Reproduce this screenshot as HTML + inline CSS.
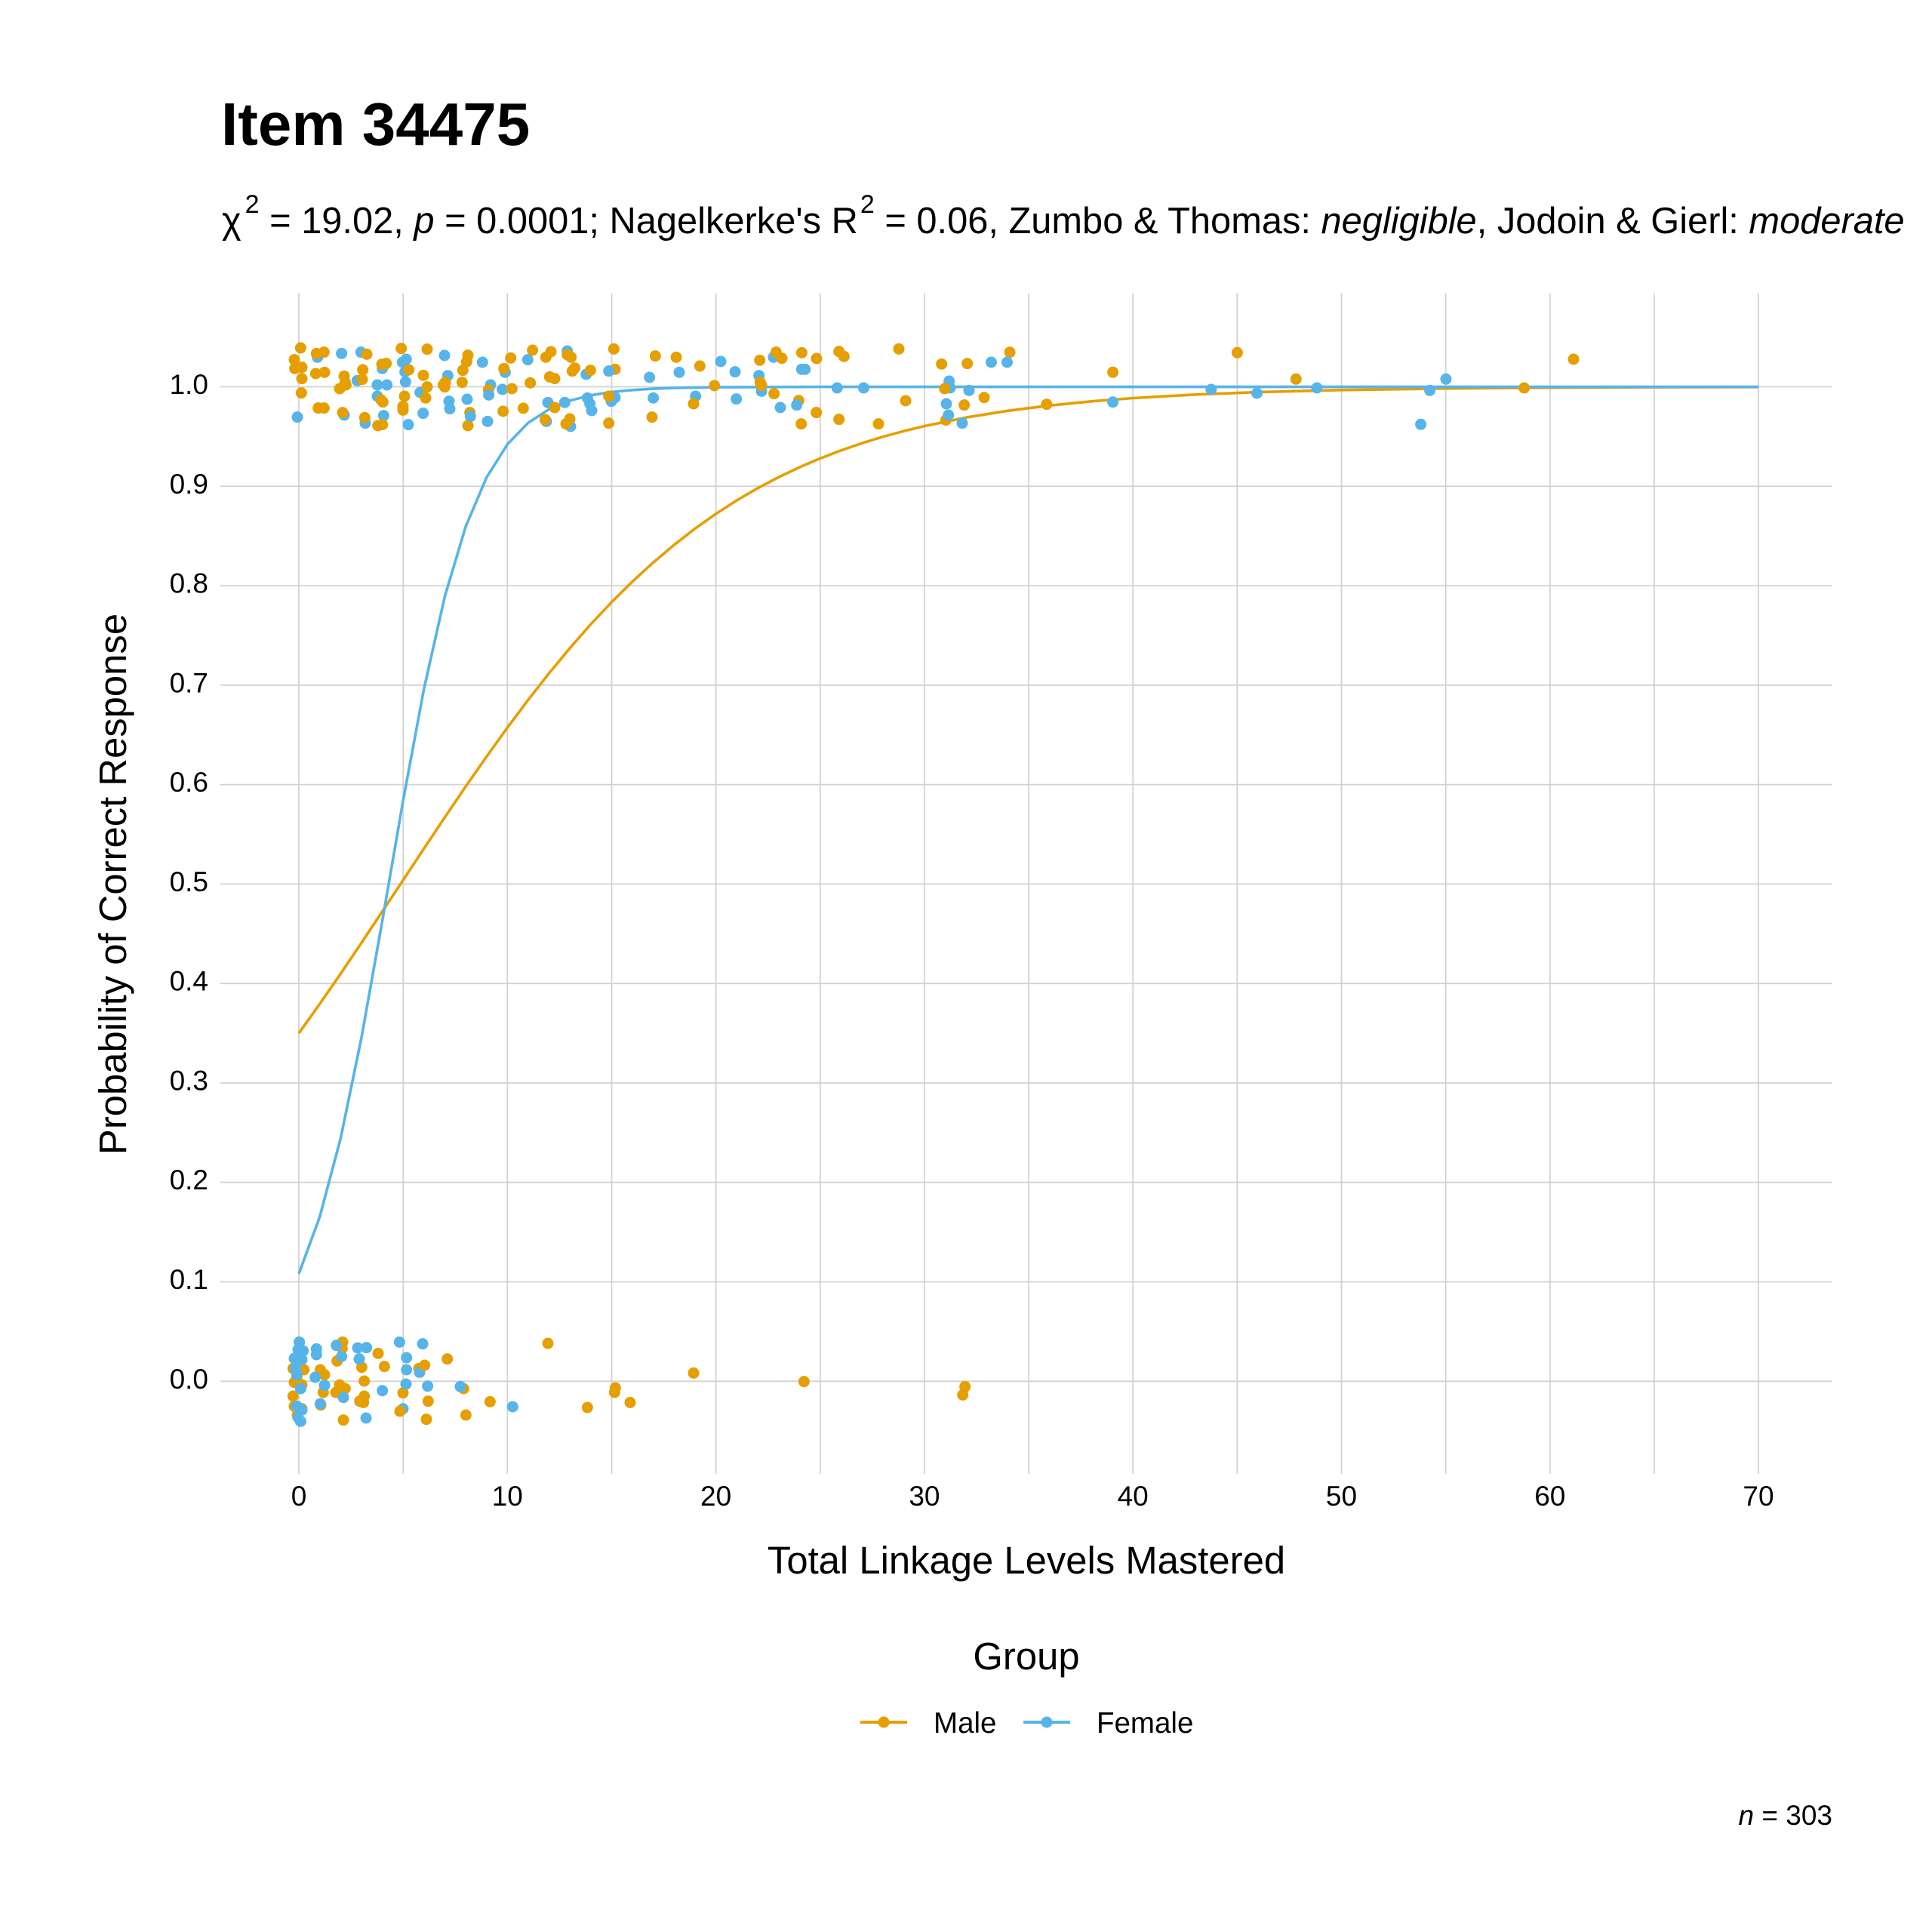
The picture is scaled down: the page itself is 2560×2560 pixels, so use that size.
<!DOCTYPE html>
<html>
<head>
<meta charset="utf-8">
<style>
html,body{margin:0;padding:0;background:#fff;}
svg{display:block;}
text{font-family:"Liberation Sans",Arial,sans-serif;fill:#000;}
</style>
</head>
<body>
<svg xmlns="http://www.w3.org/2000/svg" width="2560" height="2560" viewBox="0 0 2560 2560">
<rect width="2560" height="2560" fill="#fff"/>

<!-- Title -->
<text x="293" y="192" font-size="80" font-weight="bold">Item 34475</text>
<text x="294" y="309" font-size="48.8">χ<tspan dx="5" dy="-27" font-size="34">2</tspan><tspan dy="27"> = 19.02, </tspan><tspan font-style="italic">p</tspan> = 0.0001; Nagelkerke's R<tspan dx="3" dy="-27" font-size="34">2</tspan><tspan dy="27"> = 0.06, Zumbo &amp; Thomas: </tspan><tspan font-style="italic">negligible</tspan>, Jodoin &amp; Gierl: <tspan font-style="italic">moderate</tspan></text>

<!-- Grid -->
<g stroke="#d2d2d2" stroke-width="1.8" fill="none">
<line x1="292" x2="2428" y1="1830.3" y2="1830.3"/>
<line x1="292" x2="2428" y1="1698.5" y2="1698.5"/>
<line x1="292" x2="2428" y1="1566.7" y2="1566.7"/>
<line x1="292" x2="2428" y1="1435" y2="1435"/>
<line x1="292" x2="2428" y1="1303.2" y2="1303.2"/>
<line x1="292" x2="2428" y1="1171.4" y2="1171.4"/>
<line x1="292" x2="2428" y1="1039.6" y2="1039.6"/>
<line x1="292" x2="2428" y1="907.8" y2="907.8"/>
<line x1="292" x2="2428" y1="776.1" y2="776.1"/>
<line x1="292" x2="2428" y1="644.3" y2="644.3"/>
<line x1="292" x2="2428" y1="512.5" y2="512.5"/>
<line x1="396" x2="396" y1="388.6" y2="1953"/>
<line x1="534.2" x2="534.2" y1="388.6" y2="1953"/>
<line x1="672.3" x2="672.3" y1="388.6" y2="1953"/>
<line x1="810.5" x2="810.5" y1="388.6" y2="1953"/>
<line x1="948.6" x2="948.6" y1="388.6" y2="1953"/>
<line x1="1086.8" x2="1086.8" y1="388.6" y2="1953"/>
<line x1="1224.9" x2="1224.9" y1="388.6" y2="1953"/>
<line x1="1363.1" x2="1363.1" y1="388.6" y2="1953"/>
<line x1="1501.2" x2="1501.2" y1="388.6" y2="1953"/>
<line x1="1639.4" x2="1639.4" y1="388.6" y2="1953"/>
<line x1="1777.5" x2="1777.5" y1="388.6" y2="1953"/>
<line x1="1915.7" x2="1915.7" y1="388.6" y2="1953"/>
<line x1="2053.8" x2="2053.8" y1="388.6" y2="1953"/>
<line x1="2191.9" x2="2191.9" y1="388.6" y2="1953"/>
<line x1="2330" x2="2330" y1="388.6" y2="1953"/>
</g>

<!-- Y tick labels -->
<g font-size="37" text-anchor="end">
<text x="276" y="1839.8">0.0</text>
<text x="276" y="1708">0.1</text>
<text x="276" y="1576.2">0.2</text>
<text x="276" y="1444.5">0.3</text>
<text x="276" y="1312.7">0.4</text>
<text x="276" y="1180.9">0.5</text>
<text x="276" y="1049.1">0.6</text>
<text x="276" y="917.3">0.7</text>
<text x="276" y="785.6">0.8</text>
<text x="276" y="653.8">0.9</text>
<text x="276" y="522">1.0</text>
</g>
<!-- X tick labels -->
<g font-size="37" text-anchor="middle">
<text x="396" y="1995">0</text>
<text x="672.3" y="1995">10</text>
<text x="948.6" y="1995">20</text>
<text x="1224.9" y="1995">30</text>
<text x="1501.2" y="1995">40</text>
<text x="1777.5" y="1995">50</text>
<text x="2053.8" y="1995">60</text>
<text x="2330" y="1995">70</text>
</g>

<!-- Axis titles -->
<text x="1360" y="2085" font-size="50.8" text-anchor="middle">Total Linkage Levels Mastered</text>
<text transform="translate(167,1171.5) rotate(-90)" font-size="50.8" text-anchor="middle">Probability of Correct Response</text>

<!-- Curves -->
<polyline fill="none" stroke="#E69F00" stroke-width="3.6" stroke-linejoin="round" points="396,1369.1 423.6,1330.3 451.3,1290.3 478.9,1249.4 506.5,1207.9 534.2,1166.1 561.8,1124.4 589.4,1083 617,1042.3 644.7,1002.6 672.3,964.2 699.9,927.3 727.6,892 755.2,858.7 782.8,827.2 810.5,797.8 838.1,770.5 865.7,745.2 893.3,721.9 921,700.4 948.6,680.9 976.2,663.1 1003.9,646.9 1031.5,632.4 1059.1,619.2 1086.8,607.4 1114.4,596.8 1142,587.3 1169.6,578.8 1197.3,571.3 1224.9,564.6 1280.2,553.2 1335.4,544.3 1390.7,537.3 1445.9,531.8 1501.2,527.5 1584.1,522.8 1667,519.6 1777.5,516.8 1915.7,514.8 2053.8,513.7 2191.9,513.1 2330,512.8"/>
<polyline fill="none" stroke="#56B4E9" stroke-width="3.6" stroke-linejoin="round" points="396,1687.8 423.6,1612.6 451.3,1508.6 478.9,1375.3 506.5,1220.7 534.2,1060.4 561.8,912.6 589.4,790.3 617,697.9 644.7,632.7 672.3,588.8 699.9,560.3 727.6,542.2 755.2,530.8 782.8,523.8 810.5,519.4 838.1,516.8 865.7,515.1 893.3,514.1 948.6,513.1 1086.8,512.6 2330,512.5"/>

<!-- Points: upper band left (zoom coords) -->
<g transform="translate(370,440) scale(0.33333)">
<g fill="#56B4E9">
<circle cx="248" cy="85" r="22.5"/><circle cx="325" cy="80" r="22.5"/><circle cx="152" cy="100" r="22.5"/><circle cx="310" cy="193" r="22.5"/><circle cx="410" cy="145" r="22.5"/><circle cx="390" cy="210" r="22.5"/><circle cx="428" cy="210" r="22.5"/><circle cx="390" cy="255" r="22.5"/><circle cx="258" cy="330" r="22.5"/><circle cx="342" cy="362" r="22.5"/><circle cx="415" cy="332" r="22.5"/><circle cx="490" cy="120" r="22.5"/><circle cx="505" cy="108" r="22.5"/><circle cx="500" cy="158" r="22.5"/><circle cx="502" cy="198" r="22.5"/><circle cx="560" cy="240" r="22.5"/><circle cx="572" cy="323" r="22.5"/><circle cx="513" cy="368" r="22.5"/><circle cx="657" cy="93" r="22.5"/><circle cx="670" cy="173" r="22.5"/><circle cx="675" cy="275" r="22.5"/><circle cx="678" cy="305" r="22.5"/><circle cx="747" cy="267" r="22.5"/><circle cx="808" cy="120" r="22.5"/><circle cx="840" cy="210" r="22.5"/><circle cx="828" cy="355" r="22.5"/><circle cx="887" cy="228" r="22.5"/><circle cx="898" cy="160" r="22.5"/><circle cx="988" cy="110" r="22.5"/><circle cx="1145" cy="75" r="22.5"/><circle cx="1068" cy="280" r="22.5"/><circle cx="1062" cy="355" r="22.5"/><circle cx="1135" cy="280" r="22.5"/><circle cx="1225" cy="262" r="22.5"/><circle cx="1235" cy="285" r="22.5"/><circle cx="1242" cy="312" r="22.5"/><circle cx="1220" cy="168" r="22.5"/><circle cx="1320" cy="275" r="22.5"/><circle cx="1335" cy="260" r="22.5"/><circle cx="1158" cy="375" r="22.5"/><circle cx="72" cy="338" r="22.5"/>
</g>
<g fill="#E69F00">
<circle cx="85" cy="63" r="22.5"/><circle cx="60" cy="110" r="22.5"/><circle cx="62" cy="145" r="22.5"/><circle cx="90" cy="140" r="22.5"/><circle cx="90" cy="185" r="22.5"/><circle cx="88" cy="242" r="22.5"/><circle cx="148" cy="85" r="22.5"/><circle cx="178" cy="80" r="22.5"/><circle cx="145" cy="165" r="22.5"/><circle cx="180" cy="160" r="22.5"/><circle cx="155" cy="302" r="22.5"/><circle cx="178" cy="302" r="22.5"/><circle cx="258" cy="175" r="22.5"/><circle cx="262" cy="200" r="22.5"/><circle cx="240" cy="225" r="22.5"/><circle cx="265" cy="210" r="22.5"/><circle cx="348" cy="88" r="22.5"/><circle cx="332" cy="150" r="22.5"/><circle cx="330" cy="188" r="22.5"/><circle cx="252" cy="320" r="22.5"/><circle cx="340" cy="340" r="22.5"/><circle cx="408" cy="128" r="22.5"/><circle cx="425" cy="125" r="22.5"/><circle cx="405" cy="270" r="22.5"/><circle cx="412" cy="278" r="22.5"/><circle cx="392" cy="372" r="22.5"/><circle cx="410" cy="368" r="22.5"/><circle cx="485" cy="65" r="22.5"/><circle cx="515" cy="150" r="22.5"/><circle cx="498" cy="255" r="22.5"/><circle cx="492" cy="295" r="22.5"/><circle cx="492" cy="310" r="22.5"/><circle cx="588" cy="68" r="22.5"/><circle cx="573" cy="172" r="22.5"/><circle cx="588" cy="218" r="22.5"/><circle cx="582" cy="262" r="22.5"/><circle cx="652" cy="210" r="22.5"/><circle cx="660" cy="200" r="22.5"/><circle cx="658" cy="218" r="22.5"/><circle cx="750" cy="92" r="22.5"/><circle cx="745" cy="118" r="22.5"/><circle cx="730" cy="152" r="22.5"/><circle cx="727" cy="200" r="22.5"/><circle cx="758" cy="320" r="22.5"/><circle cx="750" cy="372" r="22.5"/><circle cx="920" cy="103" r="22.5"/><circle cx="893" cy="145" r="22.5"/><circle cx="925" cy="225" r="22.5"/><circle cx="890" cy="315" r="22.5"/><circle cx="970" cy="303" r="22.5"/><circle cx="1007" cy="72" r="22.5"/><circle cx="1060" cy="100" r="22.5"/><circle cx="1080" cy="78" r="22.5"/><circle cx="998" cy="202" r="22.5"/><circle cx="1075" cy="178" r="22.5"/><circle cx="1095" cy="185" r="22.5"/><circle cx="1145" cy="90" r="22.5"/><circle cx="1160" cy="100" r="22.5"/><circle cx="1175" cy="143" r="22.5"/><circle cx="1165" cy="155" r="22.5"/><circle cx="1237" cy="152" r="22.5"/><circle cx="1057" cy="348" r="22.5"/><circle cx="1095" cy="300" r="22.5"/><circle cx="1140" cy="365" r="22.5"/><circle cx="1155" cy="345" r="22.5"/><circle cx="1330" cy="67" r="22.5"/><circle cx="1335" cy="148" r="22.5"/><circle cx="1310" cy="255" r="22.5"/><circle cx="1310" cy="362" r="22.5"/><circle cx="832" cy="230" r="22.5"/>
</g>
<g fill="#56B4E9">
<circle cx="760" cy="335" r="22.5"/><circle cx="833" cy="250" r="22.5"/><circle cx="1310" cy="155" r="22.5"/>
</g>
</g>

<!-- Points: upper band middle -->
<g transform="translate(830,440) scale(0.33333)">
<g fill="#56B4E9">
<circle cx="92" cy="180" r="22.5"/><circle cx="210" cy="160" r="22.5"/><circle cx="107" cy="262" r="22.5"/><circle cx="275" cy="255" r="22.5"/><circle cx="375" cy="117" r="22.5"/><circle cx="432" cy="158" r="22.5"/><circle cx="437" cy="266" r="22.5"/><circle cx="527" cy="173" r="22.5"/><circle cx="537" cy="235" r="22.5"/><circle cx="585" cy="100" r="22.5"/><circle cx="612" cy="300" r="22.5"/><circle cx="697" cy="148" r="22.5"/><circle cx="710" cy="148" r="22.5"/><circle cx="838" cy="222" r="22.5"/><circle cx="943" cy="222" r="22.5"/><circle cx="1283" cy="195" r="22.5"/><circle cx="1287" cy="222" r="22.5"/><circle cx="1272" cy="285" r="22.5"/><circle cx="1335" cy="362" r="22.5"/><circle cx="1362" cy="232" r="22.5"/>
</g>
<g fill="#E69F00">
<circle cx="115" cy="95" r="22.5"/><circle cx="198" cy="100" r="22.5"/><circle cx="292" cy="135" r="22.5"/><circle cx="350" cy="213" r="22.5"/><circle cx="102" cy="338" r="22.5"/><circle cx="267" cy="285" r="22.5"/><circle cx="530" cy="112" r="22.5"/><circle cx="595" cy="80" r="22.5"/><circle cx="618" cy="104" r="22.5"/><circle cx="532" cy="200" r="22.5"/><circle cx="537" cy="212" r="22.5"/><circle cx="587" cy="245" r="22.5"/><circle cx="697" cy="82" r="22.5"/><circle cx="756" cy="105" r="22.5"/><circle cx="685" cy="272" r="22.5"/><circle cx="755" cy="320" r="22.5"/><circle cx="695" cy="365" r="22.5"/><circle cx="845" cy="77" r="22.5"/><circle cx="865" cy="97" r="22.5"/><circle cx="845" cy="347" r="22.5"/><circle cx="1083" cy="67" r="22.5"/><circle cx="1110" cy="273" r="22.5"/><circle cx="1002" cy="365" r="22.5"/><circle cx="1253" cy="127" r="22.5"/><circle cx="1355" cy="125" r="22.5"/><circle cx="1265" cy="225" r="22.5"/><circle cx="1343" cy="290" r="22.5"/><circle cx="1270" cy="350" r="22.5"/>
</g>
<g fill="#56B4E9">
<circle cx="677" cy="290" r="22.5"/><circle cx="1280" cy="330" r="22.5"/>
</g>
</g>

<!-- Points: upper band right (direct coords) -->
<g fill="#E69F00">
<circle cx="1338.1" cy="466.7" r="7.5"/><circle cx="1304.1" cy="526.7" r="7.5"/><circle cx="1386.8" cy="535.7" r="7.5"/><circle cx="1474.6" cy="493.3" r="7.5"/><circle cx="1639.4" cy="467.3" r="7.5"/><circle cx="1717.3" cy="502.3" r="7.5"/><circle cx="2019.6" cy="514" r="7.5"/><circle cx="2085" cy="476" r="7.5"/>
</g>
<g fill="#56B4E9">
<circle cx="1313.5" cy="480" r="7.5"/><circle cx="1334.5" cy="480" r="7.5"/><circle cx="1474.6" cy="532.7" r="7.5"/><circle cx="1604.8" cy="516" r="7.5"/><circle cx="1665.5" cy="521" r="7.5"/><circle cx="1745" cy="514" r="7.5"/><circle cx="1894.6" cy="517.3" r="7.5"/><circle cx="1916" cy="502.3" r="7.5"/><circle cx="1882.6" cy="562.3" r="7.5"/>
</g>

<!-- Points: lower band left -->
<g transform="translate(370,1760) scale(0.33333)">
<g fill="#E69F00">
<circle cx="80" cy="110" r="22.5"/><circle cx="55" cy="160" r="22.5"/><circle cx="98" cy="165" r="22.5"/><circle cx="70" cy="195" r="22.5"/><circle cx="60" cy="215" r="22.5"/><circle cx="90" cy="225" r="22.5"/><circle cx="55" cy="270" r="22.5"/><circle cx="60" cy="310" r="22.5"/><circle cx="90" cy="320" r="22.5"/><circle cx="72" cy="345" r="22.5"/><circle cx="163" cy="165" r="22.5"/><circle cx="180" cy="185" r="22.5"/><circle cx="175" cy="255" r="22.5"/><circle cx="165" cy="305" r="22.5"/><circle cx="252" cy="55" r="22.5"/><circle cx="250" cy="80" r="22.5"/><circle cx="230" cy="130" r="22.5"/><circle cx="240" cy="225" r="22.5"/><circle cx="262" cy="240" r="22.5"/><circle cx="225" cy="255" r="22.5"/><circle cx="255" cy="365" r="22.5"/><circle cx="328" cy="155" r="22.5"/><circle cx="338" cy="210" r="22.5"/><circle cx="338" cy="270" r="22.5"/><circle cx="320" cy="290" r="22.5"/><circle cx="335" cy="295" r="22.5"/><circle cx="393" cy="100" r="22.5"/><circle cx="418" cy="152" r="22.5"/><circle cx="492" cy="257" r="22.5"/><circle cx="555" cy="160" r="22.5"/><circle cx="592" cy="290" r="22.5"/><circle cx="585" cy="362" r="22.5"/><circle cx="668" cy="122" r="22.5"/><circle cx="733" cy="240" r="22.5"/><circle cx="742" cy="345" r="22.5"/><circle cx="838" cy="292" r="22.5"/><circle cx="1068" cy="60" r="22.5"/><circle cx="1225" cy="315" r="22.5"/><circle cx="1336" cy="237" r="22.5"/><circle cx="1333" cy="255" r="22.5"/>
</g>
<g fill="#56B4E9">
<circle cx="80" cy="55" r="22.5"/><circle cx="75" cy="85" r="22.5"/><circle cx="95" cy="90" r="22.5"/><circle cx="60" cy="120" r="22.5"/><circle cx="90" cy="125" r="22.5"/><circle cx="65" cy="160" r="22.5"/><circle cx="70" cy="185" r="22.5"/><circle cx="85" cy="240" r="22.5"/><circle cx="70" cy="310" r="22.5"/><circle cx="90" cy="325" r="22.5"/><circle cx="75" cy="355" r="22.5"/><circle cx="85" cy="370" r="22.5"/><circle cx="148" cy="82" r="22.5"/><circle cx="148" cy="105" r="22.5"/><circle cx="143" cy="195" r="22.5"/><circle cx="180" cy="227" r="22.5"/><circle cx="163" cy="300" r="22.5"/><circle cx="227" cy="68" r="22.5"/><circle cx="248" cy="112" r="22.5"/><circle cx="255" cy="275" r="22.5"/><circle cx="312" cy="78" r="22.5"/><circle cx="347" cy="77" r="22.5"/><circle cx="318" cy="122" r="22.5"/><circle cx="345" cy="357" r="22.5"/><circle cx="410" cy="248" r="22.5"/><circle cx="478" cy="55" r="22.5"/><circle cx="506" cy="117" r="22.5"/><circle cx="506" cy="165" r="22.5"/><circle cx="504" cy="222" r="22.5"/><circle cx="558" cy="175" r="22.5"/><circle cx="570" cy="62" r="22.5"/><circle cx="590" cy="230" r="22.5"/><circle cx="492" cy="320" r="22.5"/><circle cx="720" cy="232" r="22.5"/><circle cx="928" cy="312" r="22.5"/>
</g>
<g fill="#E69F00">
<circle cx="480" cy="330" r="22.5"/><circle cx="578" cy="147" r="22.5"/>
</g>
</g>

<!-- Points: lower band middle -->
<g transform="translate(830,1760) scale(0.33333)" fill="#E69F00">
<circle cx="15" cy="295" r="22.5"/><circle cx="267" cy="178" r="22.5"/><circle cx="706" cy="212" r="22.5"/><circle cx="1346" cy="232" r="22.5"/><circle cx="1337" cy="265" r="22.5"/>
</g>

<!-- Legend -->
<text x="1360" y="2212" font-size="50.8" text-anchor="middle">Group</text>
<line x1="1140" x2="1202" y1="2282" y2="2282" stroke="#E69F00" stroke-width="4"/>
<circle cx="1171" cy="2282" r="7.5" fill="#E69F00"/>
<text x="1237" y="2296" font-size="38.5">Male</text>
<line x1="1356" x2="1418" y1="2282" y2="2282" stroke="#56B4E9" stroke-width="4"/>
<circle cx="1387" cy="2282" r="7.5" fill="#56B4E9"/>
<text x="1453" y="2296" font-size="38.5">Female</text>

<!-- Caption -->
<text x="2428" y="2418" font-size="37" text-anchor="end"><tspan font-style="italic">n</tspan> = 303</text>
</svg>
</body>
</html>
